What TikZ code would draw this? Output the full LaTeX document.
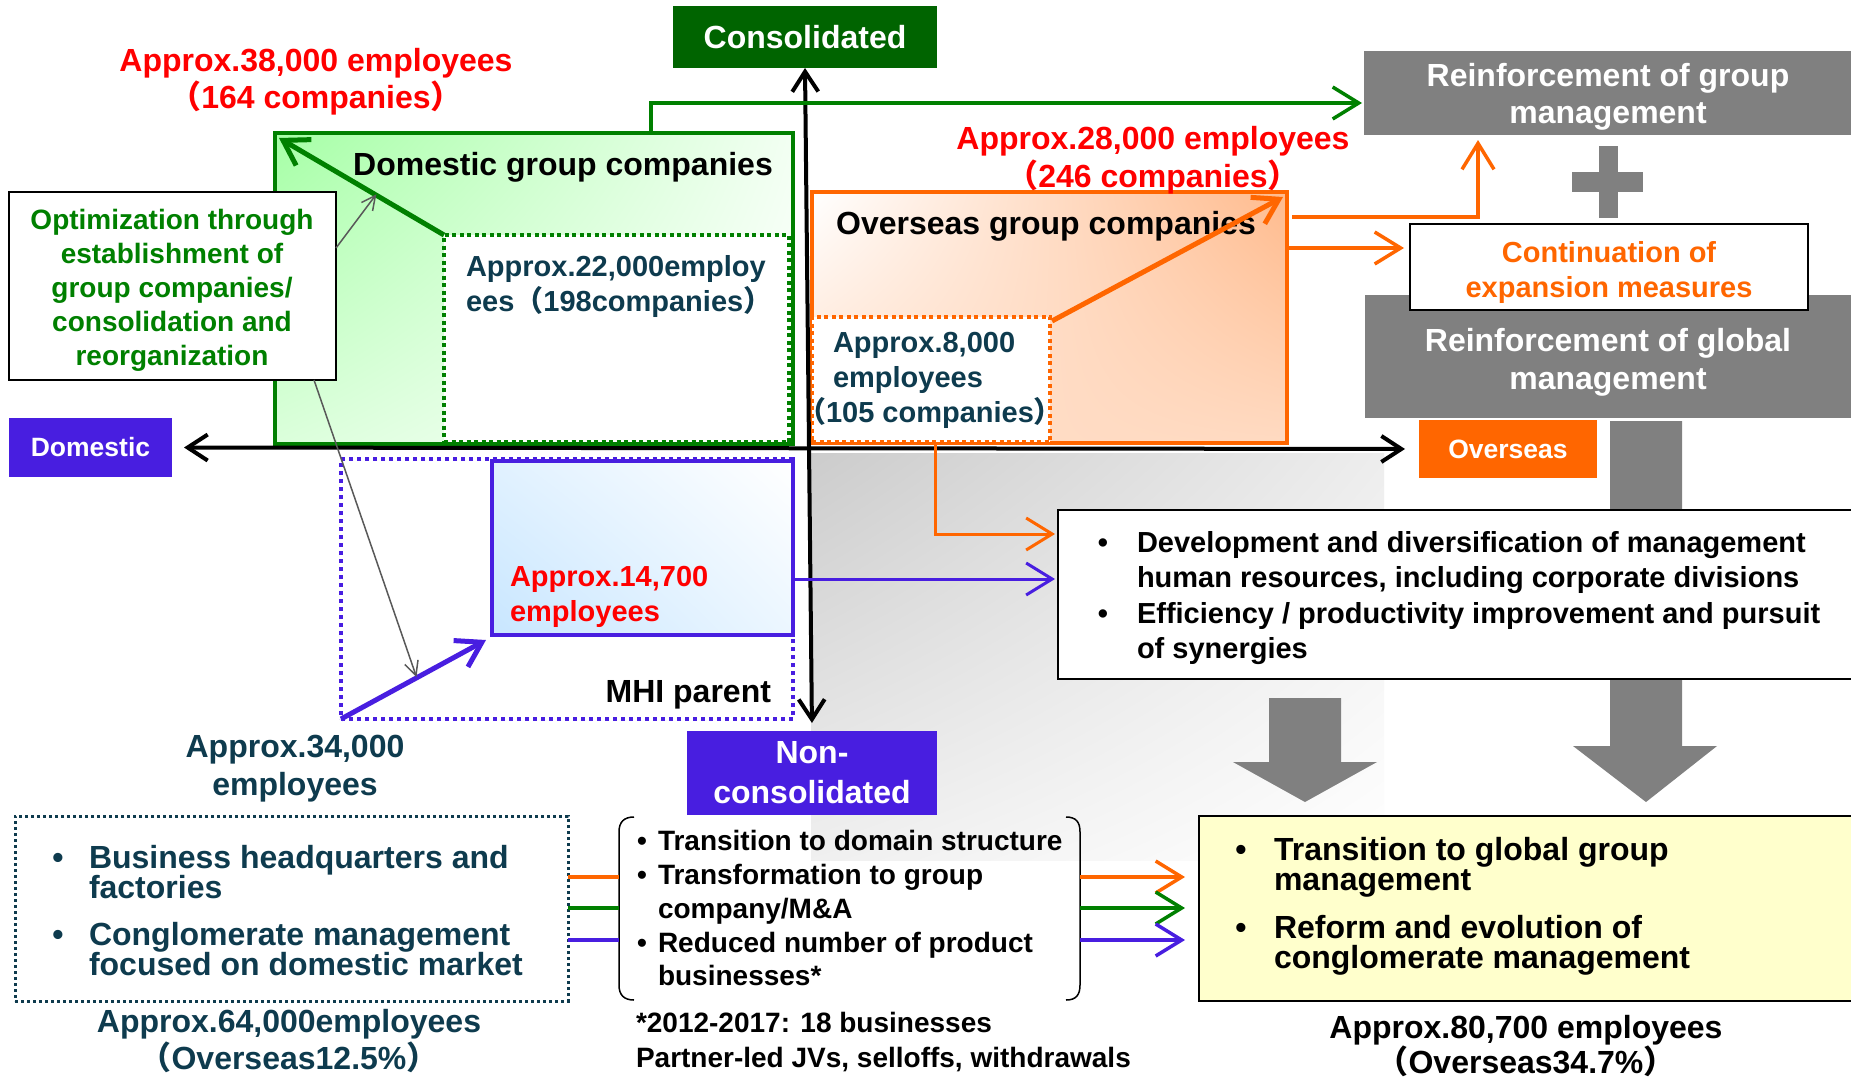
\documentclass[tikz,border=0pt]{standalone}
\usepackage{fontspec}
\setmainfont{Liberation Sans}
\newfontfamily\cjkfont{Noto Sans CJK JP}
\usetikzlibrary{arrows.meta,shadings,fit,calc}

% full-width parentheses and a size/leading shortcut
\newcommand{\fwl}{{\cjkfont （}}
\newcommand{\fwr}{{\cjkfont ）}}
\newcommand{\fs}[2]{\fontsize{#1}{#2}\selectfont\bfseries}

\definecolor{dkgreen}{HTML}{006400}
\definecolor{grn}{HTML}{008000}
\definecolor{orng}{HTML}{FF6600}
\definecolor{purp}{HTML}{481EE0}
\definecolor{deepteal}{HTML}{0E3B4E}
\definecolor{boxgray}{HTML}{808080}
\definecolor{pale}{HTML}{FFFFCC}
\definecolor{lblue}{HTML}{C8E6FF}
\definecolor{thingray}{HTML}{595959}

\begin{document}
\begin{tikzpicture}[x=1pt,y=-1pt,
  area/.style={inner sep=0pt,outer sep=0pt},
  txt/.style={inner sep=0pt,outer sep=0pt},
  barb/.style={-{Straight Barb[length=26pt,width=32pt]}},
  thickbarb/.style={-{Straight Barb[length=24pt,width=30pt]}},
  smallbarb/.style={-{Straight Barb[length=14pt,width=14pt]}},
  axisline/.style={line width=4pt,
    {Straight Barb[length=20pt,width=26pt]}-{Straight Barb[length=20pt,width=26pt]}},
  dotline/.style={dash pattern=on 4pt off 3.5pt},
  bul/.style={txt,anchor=base},
]
\useasboundingbox (0,0) rectangle (1851,1079);
\fill[white] (0,0) rectangle (1851,1079);
\clip (0,0) rectangle (1851,1079);

% soft grey backdrop of the lower-right quadrant
\shade[upper left=gray!40, upper right=gray!14, lower left=gray!12, lower right=white]
  (811,453) rectangle (1384,860);

% block arrows
\fill[boxgray] (1610,421) -- (1682,421) -- (1682,746) -- (1717,746) -- (1646,802)
  -- (1573,746) -- (1610,746) -- cycle;
\fill[boxgray] (1269,698) -- (1341,698) -- (1341,762) -- (1377,762) -- (1305,802)
  -- (1233,762) -- (1269,762) -- cycle;

% domestic group companies
\node[area, fit={(275,133)(793,444)}, draw=grn, line width=4pt,
  upper left=green!35, upper right=green!5, lower left=green!14, lower right=white] (dgc) {};
\node[area, fit={(444,235)(789,442)}, fill=white, draw=grn, line width=4pt, dotline] (dgin) {};
\node[txt, anchor=north, font=\fs{32}{36}] at (563,152) {Domestic group companies};
\node[txt, anchor=north west, text=deepteal, font=\fs{29}{35}, align=left] at (466,255)
  {Approx.22,000employ\\ees\fwl 198companies\fwr};

% overseas group companies
\node[area, fit={(812,192)(1287,443)}, draw=orng, line width=4pt,
  upper left=white, upper right=orng!45, lower left=orng!22, lower right=orng!24] (ogc) {};
\node[area, fit={(812,317)(1050,442)}, fill=white, draw=orng, line width=4pt, dotline] (ogin) {};
\node[txt, anchor=north, font=\fs{32}{36}] at (1046,211) {Overseas group companies};
\node[txt, anchor=north west, text=deepteal, font=\fs{29}{35}, align=left] at (833,332)
  {Approx.8,000\\employees\\\hspace*{-36pt}\fwl 105 companies\fwr};

% MHI parent
\node[area, fit={(341,459)(793,719)}, draw=purp, line width=4pt, dash pattern=on 4pt off 4pt] (mhi) {};
\node[area, fit={(492,461)(793,635)}, draw=purp, line width=4pt,
  upper left=lblue!55, upper right=white, lower left=lblue, lower right=lblue!35] (mhiin) {};
\node[txt, anchor=north west, text=red, font=\fs{29}{35}, align=left] at (510,566)
  {Approx.14,700\\employees};
\node[txt, anchor=base east, font=\fs{32}{36}] at (771,702) {MHI parent};

% optimization note
\node[area, fit={(9,192)(336,380)}, fill=white, draw=black, line width=2pt] (opt) {};
\node[txt, text=grn, font=\fs{28}{34}, align=center] at (172,290)
  {Optimization through\\establishment of\\group companies/\\consolidation and\\reorganization};

% right-hand management boxes
\node[area, fit={(1364,51)(1860,135)}, fill=boxgray] (rgm) {};
\node[txt, anchor=north, text=white, font=\fs{32}{37}, align=center] at (1608,63)
  {Reinforcement of group\\management};
\fill[boxgray] (1599,146) rectangle (1618,218);
\fill[boxgray] (1572,172) rectangle (1643,192);
\node[area, fit={(1365,295)(1860,418)}, fill=boxgray] (rglob) {};
\node[txt, anchor=north, text=white, font=\fs{32}{38}, align=center] at (1608,328)
  {Reinforcement of global\\management};
\node[area, fit={(1410,224)(1808,310)}, fill=white, draw=black, line width=2pt] (cont) {};
\node[txt, anchor=north, text=orng, font=\fs{29}{35}, align=center] at (1609,241)
  {Continuation of\\expansion measures};

% axis labels
\node[area, fit={(673,6)(937,68)}, fill=dkgreen] (cons) {};
\node[txt, text=white, font=\fs{32}{36}] at (cons.center) {Consolidated};
\node[area, fit={(687,731)(937,815)}, fill=purp] (noncons) {};
\node[txt, text=white, font=\fs{32}{40}, align=center] at (noncons.center) {Non-\\consolidated};
\node[area, fit={(9,418)(172,477)}, fill=purp] (domlab) {};
\node[txt, text=white, font=\fs{26.5}{30}] at (domlab.center) {Domestic};
\node[area, fit={(1419,420)(1597,478)}, fill=orng] (ovslab) {};
\node[txt, text=white, font=\fs{26.5}{30}] at (ovslab.center) {Overseas};

% headcount labels
\node[txt, anchor=north, text=red, font=\fs{32}{37}, align=center] at (316,48)
  {Approx.38,000 employees\\\fwl 164 companies\fwr};
\node[txt, anchor=north, text=red, font=\fs{32}{38}, align=center] at (1153,126)
  {Approx.28,000 employees\\\fwl 246 companies\fwr};
\node[txt, anchor=north, text=deepteal, font=\fs{32}{38}, align=center] at (295,735)
  {Approx.34,000\\employees};

% measures box
\node[area, fit={(1058,510)(1860,679)}, fill=white, draw=black, line width=2pt] (dev) {};
\node[bul, font=\fs{29}{35}] at (1103,552) {•};
\node[txt, anchor=north west, font=\fs{29}{35}, align=left] at (1137,531)
  {Development and diversification of management\\human resources, including corporate divisions};
\node[bul, font=\fs{29}{35}] at (1103,623) {•};
\node[txt, anchor=north west, font=\fs{29}{35}, align=left] at (1137,602)
  {Efficiency / productivity improvement and pursuit\\of synergies};

% current state
\node[area, fit={(15,816)(568,1001)}, draw=deepteal, line width=3pt, dash pattern=on 3pt off 3pt] (cur) {};
\node[bul, text=deepteal, font=\fs{32}{30}] at (58,868) {•};
\node[txt, anchor=north west, text=deepteal, font=\fs{32}{30}, align=left] at (89,845)
  {Business headquarters and\\factories};
\node[bul, text=deepteal, font=\fs{32}{30}] at (58,945) {•};
\node[txt, anchor=north west, text=deepteal, font=\fs{32}{30}, align=left] at (89,922)
  {Conglomerate management\\focused on domestic market};
\node[txt, anchor=north, text=deepteal, font=\fs{32}{37}, align=center] at (289,1009)
  {Approx.64,000employees\\\fwl Overseas12.5\%\fwr};

% reforms in brackets
\node[area, fit={(619,817)(1080,1000)}] (brc) {};
\draw[line width=1.5pt] (634,817) .. controls (624,817) and (619,822) .. (619,832)
  -- (619,985) .. controls (619,995) and (624,1000) .. (634,1000);
\draw[line width=1.5pt] (1066,817) .. controls (1076,817) and (1080,822) .. (1080,832)
  -- (1080,985) .. controls (1080,995) and (1076,1000) .. (1066,1000);
\node[bul, font=\fs{28}{34}] at (642,850) {•};
\node[txt, anchor=north west, font=\fs{28}{34}, align=left] at (658,830) {Transition to domain structure};
\node[bul, font=\fs{28}{34}] at (642,884) {•};
\node[txt, anchor=north west, font=\fs{28}{34}, align=left] at (658,864)
  {Transformation to group\\company/M\&A};
\node[bul, font=\fs{28}{34}] at (642,952) {•};
\node[txt, anchor=north west, font=\fs{28}{33}, align=left] at (658,932)
  {Reduced number of product\\businesses*};
\node[txt, anchor=north west, font=\fs{28}{35}, align=left] at (636,1012)
  {*2012-2017: 18 businesses\\Partner-led JVs, selloffs, withdrawals};

% future state
\node[area, fit={(1199,816)(1860,1001)}, fill=pale, draw=black, line width=2pt] (fut) {};
\node[bul, font=\fs{32}{30}] at (1241,860) {•};
\node[txt, anchor=north west, font=\fs{32}{30}, align=left] at (1274,837)
  {Transition to global group\\management};
\node[bul, font=\fs{32}{30}] at (1241,938) {•};
\node[txt, anchor=north west, font=\fs{32}{30}, align=left] at (1274,915)
  {Reform and evolution of\\conglomerate management};
\node[txt, anchor=north, font=\fs{32}{35}, align=center] at (1526,1015)
  {Approx.80,700 employees\\\fwl Overseas34.7\%\fwr};

% axes
\draw[axisline, shorten <=12pt, shorten >=14pt] (domlab.east) -- (ovslab.west);
\draw[axisline, shorten >=8pt] (cons.south) -- (noncons.north);

% growth arrows inside the quadrants
\draw[grn, line width=5pt, thickbarb] (dgin.north west) -- ([shift={(4,5)}]dgc.north west);
\draw[orng, line width=5pt, thickbarb] ([shift={(2,4)}]ogin.north east) -- ([shift={(-4,5)}]ogc.north east);
\draw[purp, line width=5pt, thickbarb] (mhi.south west) -- ([shift={(-6,5)}]mhiin.south west);

% optimization pointers
\coordinate (gA) at ($(dgin.north west)!0.4!(dgc.north west)$);
\coordinate (gB) at ($(mhi.south west)!0.5!(mhiin.south west)$);
\draw[thingray, line width=1.5pt, smallbarb] (opt.east |- 0,248) -- (gA);
\draw[thingray, line width=1.5pt, smallbarb] (opt.south -| 314,0) -- (gB);

% flows to the management boxes
\draw[grn, line width=3.5pt, barb, shorten >=2pt] (dgc.north -| 651,0) |- (rgm.west |- 0,103);
\draw[orng, line width=3.5pt, barb, shorten <=5pt, shorten >=5pt] (ogc.east |- 0,217) -| (rgm.south -| 1478,0);
\draw[orng, line width=3.5pt, barb, shorten <=2pt, shorten >=6pt] (ogc.east |- 0,248) -- (cont.west |- 0,248);
\draw[orng, line width=3pt, barb, shorten >=3pt] (ogin.south -| 935,0) |- (dev.west |- 0,534);
\draw[purp, line width=3pt, barb, shorten >=3pt] (mhiin.east |- 0,579) -- (dev.west |- 0,579);

% flows from current to future state
\foreach \c/\yy in {orng/877, grn/908, purp/940} {
  \draw[\c, line width=3.5pt] (cur.east |- 0,\yy) -- (brc.west |- 0,\yy);
  \draw[\c, line width=3.5pt, barb, shorten >=14pt] (brc.east |- 0,\yy) -- (fut.west |- 0,\yy);
}
\end{tikzpicture}
\end{document}
